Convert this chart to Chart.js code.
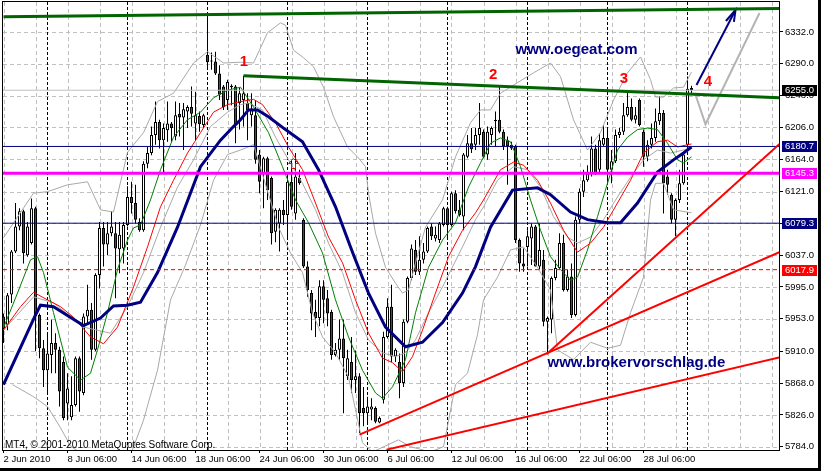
<!DOCTYPE html>
<html>
<head>
<meta charset="utf-8">
<script src="https://cdn.jsdelivr.net/npm/chart.js@4.4.0/dist/chart.umd.min.js"></script>
<style>
  html, body { margin: 0; padding: 0; background: #000; }
  #wrap { width: 818px; height: 468px; background: #fff; }
</style>
</head>
<body>
<div id="wrap"><canvas id="chart" width="818" height="468"></canvas></div>
<script>
// DAX H4, 2 Jun - 29 Jul 2010 (MT4 screenshot)

// CANDLES (bar index 0..172)
const opens = [5956,5945,5985,6042,6075,6095,6037,6053,6099,5958,5914,5885,5905,5921,5912,5896,5841,5823,5839,5901,
  5855,5956,5965,5912,6011,6073,6051,6066,6066,6045,6046,6077,6114,6106,6081,6070,6158,6172,6196,6213,
  6189,6202,6211,6194,6224,6219,6227,6233,6211,6221,6209,6302,6294,6293,6277,6260,6242,6261,6260,6238,
  6242,6238,6222,6222,6170,6145,6165,6139,6068,6079,6097,6090,6134,6092,6139,6084,6022,5987,5962,5954,
  5996,5980,5962,5905,5912,5927,5877,5896,5872,5877,5835,5828,5833,5835,5816,5846,5929,5969,5903,5896,
  5868,5949,6007,6044,6015,6031,6042,6075,6059,6057,6077,6099,6077,6119,6097,6088,6167,6185,6183,6196,
  6200,6170,6196,6214,6216,6200,6189,6183,6181,6057,6026,6048,6059,6075,6022,6031,5949,5952,6007,6020,
  6053,5991,6009,5958,6084,6121,6136,6145,6178,6150,6183,6192,6150,6161,6196,6200,6222,6233,6216,6242,
  6200,6167,6183,6192,6214,6225,6141,6117,6084,6110,6132,6183,6258];
const highs = [5960,5987,6044,6106,6099,6097,6081,6112,6101,5960,5925,5934,5952,5934,5916,5903,5881,5877,5903,5903,
  5960,5998,5974,6013,6081,6081,6081,6095,6081,6081,6081,6128,6134,6130,6086,6161,6180,6207,6240,6216,
  6211,6240,6213,6240,6238,6238,6235,6260,6253,6227,6224,6354,6305,6306,6288,6262,6269,6263,6262,6258,
  6274,6251,6251,6242,6176,6167,6167,6141,6099,6099,6110,6145,6163,6172,6150,6086,6029,5991,5978,6004,
  6004,5991,5965,5921,5952,5952,5912,5929,5911,5881,5863,5850,5848,5837,5824,5936,5980,5998,5914,5907,
  5952,6009,6051,6057,6062,6053,6075,6079,6075,6081,6101,6101,6121,6123,6110,6172,6196,6205,6205,6238,
  6203,6207,6207,6227,6260,6203,6194,6187,6183,6059,6046,6070,6079,6077,6079,6044,5956,6009,6031,6066,
  6064,6018,6026,6088,6125,6150,6156,6194,6183,6198,6209,6203,6176,6203,6205,6238,6255,6244,6233,6244,
  6203,6189,6211,6231,6247,6229,6150,6119,6112,6150,6172,6273,6261];
const lows = [5921,5938,5974,6040,6070,6026,6035,6051,5910,5901,5863,5855,5881,5881,5837,5819,5819,5819,5837,5830,
  5852,5947,5899,5910,5993,6022,6037,6062,5980,6013,6026,6075,6092,6079,6068,6068,6152,6169,6183,6178,
  6145,6187,6187,6189,6194,6176,6205,6207,6189,6200,6205,6284,6282,6275,6242,6229,6229,6235,6185,6203,
  6207,6189,6207,6158,6119,6099,6110,6051,6054,6042,6077,6057,6097,6084,6130,6020,5982,5938,5929,5943,
  5947,5943,5899,5903,5899,5828,5872,5855,5855,5802,5811,5815,5819,5815,5815,5841,5927,5896,5896,5848,
  5863,5947,6004,6011,6011,6026,6040,6057,6055,6053,6075,6057,6075,6092,6088,6070,6165,6172,6176,6183,
  6165,6163,6183,6181,6198,6176,6130,6176,6053,6015,6015,6022,6024,6022,6018,5943,5907,5934,6004,6018,
  5989,5989,5954,5956,6079,6114,6134,6141,6143,6145,6181,6134,6132,6159,6192,6196,6220,6214,6211,6207,
  6154,6161,6178,6187,6209,6092,6117,6079,6062,6106,6130,6180,6251];
const closes = [5940,5984,6042,6075,6095,6040,6075,6099,5956,5914,5885,5907,5921,5912,5857,5822,5861,5839,5901,5857,
  5956,5965,5912,6011,6073,6051,6066,6075,6046,6064,6077,6114,6106,6084,6070,6158,6172,6196,6213,6189,
  6205,6211,6205,6222,6219,6230,6233,6224,6222,6210,6222,6292,6293,6277,6249,6233,6266,6259,6209,6251,
  6251,6229,6231,6163,6134,6165,6123,6066,6097,6097,6090,6134,6101,6141,6132,6022,5991,5960,5954,5996,
  5978,5960,5905,5912,5927,5901,5901,5872,5877,5828,5828,5837,5837,5817,5822,5929,5969,5903,5912,5868,
  5949,6007,6046,6015,6031,6042,6073,6062,6064,6079,6099,6077,6119,6095,6090,6170,6185,6177,6196,6205,
  6167,6200,6205,6216,6200,6181,6181,6178,6057,6026,6022,6062,6075,6022,6044,5949,5954,6007,6020,6053,
  5991,6009,5958,6084,6121,6136,6145,6178,6145,6189,6192,6150,6161,6196,6200,6222,6233,6216,6222,6209,
  6167,6183,6192,6214,6225,6132,6130,6084,6110,6132,6170,6257,6255];

// INDICATORS: [bar, value] vertices
const maSlow = [[0,5866],[8,5958],[9.25,5971],[12.5,5969],[20,5944],[24.25,5954],[27.5,5970],[31,5971],[34.25,5975],
  [38.5,6014],[43.5,6074],[49.25,6154],[54.25,6189],[57.5,6207],[59.25,6216],[61.25,6229],[63.5,6229],[66.25,6220],
  [70.5,6203],[74.75,6187],[78.75,6150],[83,6101],[87.25,6041],[91.25,5987],[95.5,5942],[100.5,5916],[104.75,5922],
  [109.75,5948],[114.75,5987],[118,6022],[121.75,6074],[127.25,6123],[133.5,6126],[136.75,6117],[141.75,6094],
  [146,6084],[151,6080],[154.25,6080],[158.5,6106],[163.5,6147],[167.5,6163],[170,6172],[172,6180]];
const maMid = [[0,5938],[4.25,5969],[7.5,5988],[11,5978],[14.25,5969],[17.5,5955],[21.75,5929],[25,5920],[28.5,5942],
  [32.5,5995],[36,6048],[39.25,6101],[42.5,6136],[46,6172],[49.25,6199],[52.5,6226],[56,6236],[59.25,6240],[62.5,6243],
  [64.75,6236],[68,6212],[71.25,6180],[74.75,6150],[78,6106],[81.25,6061],[84.75,6027],[88,5978],[91.25,5934],
  [94.75,5901],[97.25,5895],[99.75,5883],[102.25,5903],[104.75,5938],[108,5987],[111.25,6035],[114.75,6070],
  [118,6093],[120,6110],[124.25,6150],[127.5,6160],[130,6156],[133.5,6136],[136.75,6106],[140,6070],[143.5,6041],
  [146.75,6053],[150,6074],[153.5,6106],[156.75,6136],[160,6172],[163.5,6187],[166,6189],[168.5,6180],[171,6183],[172,6184]];
const maFast = [[0,5941],[3.5,5987],[6.75,6031],[8.5,6035],[10,6014],[12.5,5961],[16,5889],[19.25,5872],[21.75,5881],
  [23.5,5912],[26,5961],[28.5,6018],[31,6057],[32.5,6073],[34.25,6077],[36.75,6110],[39.25,6150],[42.5,6193],[46,6216],
  [49.25,6226],[52.5,6245],[56,6255],[59.25,6259],[62.5,6233],[66.25,6199],[69.75,6154],[73,6110],[76.25,6080],
  [79.75,6040],[83,5978],[86.25,5929],[89.75,5885],[93,5855],[94.75,5848],[97.25,5863],[100.5,5899],[103,5961],
  [106.25,6021],[109.75,6057],[113,6080],[116.25,6127],[119.25,6159],[121.75,6185],[124.25,6192],[126.75,6187],
  [129.25,6154],[131.75,6110],[134.25,6070],[136.75,6035],[139.25,6018],[141.75,6004],[143.5,6008],[146,6044],
  [148.5,6088],[151,6132],[153.5,6176],[156,6193],[158.5,6203],[161,6205],[163.5,6203],[166,6185],[168.5,6163],
  [170,6159],[172,6167]];
const bandUpper = [[0,6060],[7.5,6119],[11,6121],[16,6130],[21,6134],[24.25,6097],[27.5,6094],[31,6173],[35,6199],
  [38.5,6240],[42.5,6251],[47.5,6291],[51,6306],[55,6291],[59.25,6292],[62.5,6291],[66,6331],[69.25,6344],[70.5,6341],
  [72.5,6308],[75,6298],[77.5,6286],[80,6259],[82.5,6220],[86,6180],[88.5,6167],[90.5,6154],[91.25,6119],[93,6066],
  [95.5,6021],[98,6000],[99.75,5987],[101.25,5991],[103,6027],[105.5,6074],[109.75,6110],[113,6167],[116.75,6212],
  [119.25,6229],[121.75,6229],[124.25,6251],[128.5,6265],[132.5,6278],[136.75,6291],[139.25,6273],[142.5,6216],
  [146,6176],[149.25,6199],[152.5,6242],[156,6278],[159.25,6299],[161.75,6269],[163,6246],[165,6246],[167.5,6258],
  [170,6259],[172,6279]];
const bandMiddle = [[0,5938],[7.5,5982],[12.5,5974],[20,5942],[26.75,5934],[31,5969],[35,6014],[39.25,6074],[43.5,6127],
  [47.5,6163],[51.75,6207],[56,6226],[59.25,6236],[61.25,6238],[64.75,6229],[68,6193],[71.25,6163],[74.75,6132],
  [78,6097],[81.25,6053],[84.75,6014],[88,5961],[91.25,5925],[94.75,5908],[98,5903],[100.5,5908],[103,5925],
  [106.25,5961],[109.75,5995],[114.75,6048],[118,6084],[120,6101],[123.5,6136],[127.5,6154],[131,6150],[134.25,6127],
  [137.5,6088],[141,6061],[143.5,6053],[146.75,6061],[150,6084],[153.5,6114],[156.75,6140],[160,6163],[163.5,6176],
  [166.75,6172],[170,6176],[172,6179]];
const bandLower = [[2.25,5866],[7.5,5850],[11,5837],[14.25,5809],[16.75,5785],[24.25,5756],[31.75,5773],[35,5819],
  [38.5,5885],[41.75,5978],[45.5,6024],[49.25,6077],[52.5,6136],[56,6170],[59.25,6176],[62.5,6183],[68.75,6074],
  [71.75,6040],[74.75,6014],[77.25,5961],[79.75,5929],[83,5908],[86.25,5876],[88,5833],[89.75,5789],[92.25,5777],
  [95.5,5785],[98.75,5793],[101.75,5784],[106.75,5777],[110,5784],[113,5866],[116,5881],[118.5,5932],[120,5978],
  [123.5,6008],[126.75,6044],[130,6048],[133.5,6021],[136.75,5991],[138.5,5912],[142.5,5899],[146.75,5922],
  [151,5914],[154.25,5918],[156.75,5961],[160,6008],[161.75,6110],[163,6132],[165,6132],[167.5,6097],[172,6093]];

// DRAWN OBJECTS: [bar, value]
const channelTop = [[0,6352],[194,6363]];
const resistance = [[60,6274],[194,6245]];
const supportSteep = [[135.75,5906],[194,6184]];
const supportMid = [[89,5800],[194,6041]];
const supportLow = [[95.75,5780],[194,5902]];
const arrowShaft = [[173.25,6262],[183,6361]];
const arrowHead = [[180.6,6346.5],[183,6361],[182.6,6345.2]];
const scenario = [[173,6249],[175.5,6210],[189,6357]];

// HORIZONTAL LEVELS
const levelValues = [6255.0, 6180.7, 6145.3, 6079.3, 6017.9];
const levelColors = ['#c0c0c0', '#000080', '#ff00ff', '#000080', '#ff0000'];
const levelWidths = [1, 1, 3, 1, 1];
const levelBoxColors = ['#000000', '#000080', '#ff00ff', '#000080', '#ff0000'];

// WEEK SEPARATORS
const weekStarts = [11, 31, 51, 71, 91, 111, 131, 151, 171];

// AXES
const xLabelBars = [0, 16, 32, 48, 64, 80, 96, 112, 128, 144, 160];
const xLabels = ['2 Jun 2010', '8 Jun 06:00', '14 Jun 06:00', '18 Jun 06:00', '24 Jun 06:00', '30 Jun 06:00',
  '6 Jul 06:00', '12 Jul 06:00', '16 Jul 06:00', '22 Jul 06:00', '28 Jul 06:00'];
const xGridBars = [0, 8, 16, 24, 32, 40, 48, 56, 64, 72, 80, 88, 96, 104, 112, 120, 128, 136, 144, 152, 160, 168, 176, 184, 192];
const yTicks = [5784, 5826, 5868, 5910, 5953, 5995, 6037, 6079, 6121, 6164, 6206, 6248, 6290, 6332];
const yMin = 5779.6, yMax = 6371.6;
const xMin = -0.125, xMax = 193.875;

// TEXT NOTES
const waveNotes = [
  { text: '1', bar: 60.1, value: 6292 },
  { text: '2', bar: 122.4, value: 6275 },
  { text: '3', bar: 155.1, value: 6270 },
  { text: '4', bar: 176.1, value: 6266 }
];
const siteNotes = [
  { text: 'www.oegeat.com', bar: 128, value: 6308 },
  { text: 'www.brokervorschlag.de', bar: 136, value: 5895 }
];
const upMark = { bar: 72.25, value: 6159 };


Chart.defaults.font.family = 'Liberation Sans';

const pts = arr => arr.map(p => ({ x: p[0], y: p[1] }));

function lineSet(points, color, width, order, dash) {
  return {
    type: 'line',
    data: pts(points),
    borderColor: color,
    borderWidth: width,
    borderDash: dash || [],
    pointRadius: 0,
    tension: 0,
    fill: false,
    clip: 0,
    order
  };
}

const barIdx = opens.map((o, i) => i);
const wickData = barIdx.map(i => ({ x: i, y: [lows[i], highs[i]] }));
const bullData = barIdx.filter(i => closes[i] >= opens[i]).map(i => ({ x: i, y: [opens[i], closes[i]] }));
const bearData = barIdx.filter(i => closes[i] < opens[i]).map(i => ({ x: i, y: [closes[i], opens[i]] }));

function barSet(data, fill, thickness, border, order) {
  return {
    type: 'bar',
    data,
    backgroundColor: fill,
    borderColor: '#000',
    borderWidth: border,
    borderSkipped: false,
    barThickness: thickness,
    maxBarThickness: thickness,
    grouped: false,
    inflateAmount: 0,
    minBarLength: 1,
    clip: 0,
    order
  };
}

const datasets = [];

// trend lines and hand drawn objects
datasets.push(lineSet(channelTop, '#006400', 3, 0));
datasets.push(lineSet(resistance, '#006400', 3, 0));
datasets.push(lineSet(supportSteep, '#ff0000', 2, 0));
datasets.push(lineSet(supportMid, '#ff0000', 2, 0));
datasets.push(lineSet(supportLow, '#ff0000', 2, 0));
datasets.push(lineSet(arrowShaft, '#000080', 2, 0));
datasets.push(lineSet(arrowHead, '#000080', 2, 0));
datasets.push(lineSet(scenario, '#b4b4b4', 2, 0));

// levels
levelValues.forEach((v, k) => {
  datasets.push(lineSet([[xMin, v], [xMax, v]], levelColors[k], levelWidths[k], 1, k === 4 ? [4, 3] : []));
});

// moving averages and bands
datasets.push(lineSet(maSlow, '#000080', 3, 2));
datasets.push(lineSet(maMid, '#ff0000', 1, 3));
datasets.push(lineSet(maFast, '#008000', 1, 3));
datasets.push(lineSet(bandUpper, '#a8a8a8', 1, 4));
datasets.push(lineSet(bandMiddle, '#a8a8a8', 1, 4));
datasets.push(lineSet(bandLower, '#a8a8a8', 1, 4));

// candles
datasets.push(barSet(bullData, '#ffffff', 3, 1, 5));
datasets.push(barSet(bearData, '#ff0000', 3, 1, 5));
datasets.push(barSet(wickData, '#000000', 1, 0, 6));

// week separators
weekStarts.forEach(b => {
  datasets.push(lineSet([[b, yMin], [b, yMax]], '#000000', 1, 7, [3, 2]));
});


const overlay = {
  id: 'overlay',
  beforeDatasetsDraw(chart) {
    // MT4 style dashed grid, drawn from the scale ticks
    const { ctx, scales: { x, y } } = chart;
    const area = chart.chartArea;
    ctx.save();
    ctx.strokeStyle = '#c0c0c0';
    ctx.lineWidth = 1;
    ctx.setLineDash([4, 3]);
    ctx.beginPath();
    xGridBars.forEach(b => {
      const px = Math.round(x.getPixelForValue(b)) + 0.5;
      ctx.moveTo(px, area.top);
      ctx.lineTo(px, area.bottom);
    });
    yTicks.forEach(v => {
      const py = Math.round(y.getPixelForValue(v)) + 0.5;
      ctx.moveTo(area.left, py);
      ctx.lineTo(area.right, py);
    });
    ctx.stroke();
    ctx.restore();
  },
  afterDatasetsDraw(chart) {
    const { ctx, scales: { x, y } } = chart;
    const area = chart.chartArea;
    ctx.save();
    ctx.beginPath();
    ctx.rect(area.left, area.top, area.right - area.left, area.bottom - area.top);
    ctx.clip();

    ctx.textAlign = 'center';
    ctx.textBaseline = 'middle';
    ctx.fillStyle = '#ff0000';
    ctx.font = 'bold 15px "Liberation Sans"';
    waveNotes.forEach(n => ctx.fillText(n.text, x.getPixelForValue(n.bar), y.getPixelForValue(n.value)));

    // hollow up arrow marker
    const ax = Math.round(x.getPixelForValue(upMark.bar)) + 0.5;
    const ay = Math.round(y.getPixelForValue(upMark.value)) + 0.5;
    ctx.strokeStyle = '#ff0000';
    ctx.lineWidth = 1;
    ctx.beginPath();
    ctx.moveTo(ax, ay - 5);
    ctx.lineTo(ax + 5, ay);
    ctx.lineTo(ax + 2, ay);
    ctx.lineTo(ax + 2, ay + 5);
    ctx.lineTo(ax - 2, ay + 5);
    ctx.lineTo(ax - 2, ay);
    ctx.lineTo(ax - 5, ay);
    ctx.closePath();
    ctx.stroke();

    ctx.textAlign = 'left';
    ctx.fillStyle = '#000080';
    ctx.font = 'bold 15px "Liberation Sans"';
    siteNotes.forEach(n => ctx.fillText(n.text, x.getPixelForValue(n.bar), y.getPixelForValue(n.value)));

    ctx.fillStyle = '#000';
    ctx.font = '10px "Liberation Sans"';
    ctx.textBaseline = 'alphabetic';
    ctx.fillText('MT4, \u00A9 2001-2010 MetaQuotes Software Corp.', area.left + 2, area.bottom - 2);
    ctx.restore();
  },
  afterDraw(chart) {
    const { ctx, scales: { y } } = chart;
    const area = chart.chartArea;
    ctx.save();
    ctx.strokeStyle = '#000';
    ctx.lineWidth = 1;
    ctx.strokeRect(area.left - 0.5, area.top - 0.5, area.right - area.left + 1, area.bottom - area.top + 1);

    ctx.font = '9.5px "Liberation Sans"';
    ctx.textAlign = 'left';
    ctx.textBaseline = 'middle';
    levelValues.forEach((v, k) => {
      const py = Math.round(y.getPixelForValue(v));
      ctx.fillStyle = levelBoxColors[k];
      ctx.fillRect(area.right + 3, py - 5, 35, 11);
      ctx.fillStyle = '#fff';
      ctx.fillText(v.toFixed(1), area.right + 6, py + 0.5);
    });
    ctx.restore();
  }
};

new Chart(document.getElementById('chart'), {
  type: 'line',
  data: { datasets },
  plugins: [overlay],
  options: {
    responsive: false,
    animation: false,
    devicePixelRatio: 1,
    events: [],
    layout: { padding: { left: 3, top: 2, right: 0, bottom: 0 } },
    plugins: { legend: { display: false }, tooltip: { enabled: false } },
    scales: {
      x: {
        type: 'linear',
        min: xMin,
        max: xMax,
        offset: false,
        afterBuildTicks: s => { s.ticks = xGridBars.map(v => ({ value: v })); },
        afterFit: s => { s.height = 18; s.paddingLeft = 0; s.paddingRight = 0; },
        ticks: {
          autoSkip: false,
          maxRotation: 0,
          minRotation: 0,
          align: 'start',
          padding: 1,
          color: '#000',
          font: { size: 9.5 },
          callback: v => {
            const k = xLabelBars.indexOf(v);
            return k >= 0 ? xLabels[k] : '';
          }
        },
        grid: {
          drawOnChartArea: false,
          offset: false,
          tickLength: 3,
          tickColor: c => (c.tick && xLabelBars.includes(c.tick.value)) ? '#000' : 'rgba(0,0,0,0)'
        },
        border: { display: false }
      },
      y: {
        type: 'linear',
        position: 'right',
        min: yMin,
        max: yMax,
        afterBuildTicks: s => { s.ticks = yTicks.map(v => ({ value: v })); },
        afterFit: s => { s.width = 39; s.paddingTop = 0; s.paddingBottom = 0; },
        ticks: {
          color: '#000',
          padding: 2,
          font: { size: 9.5 },
          callback: v => v.toFixed(1)
        },
        grid: { drawOnChartArea: false, tickLength: 4, tickColor: '#000' },
        border: { display: false }
      }
    }
  }
});
</script>
</body>
</html>
